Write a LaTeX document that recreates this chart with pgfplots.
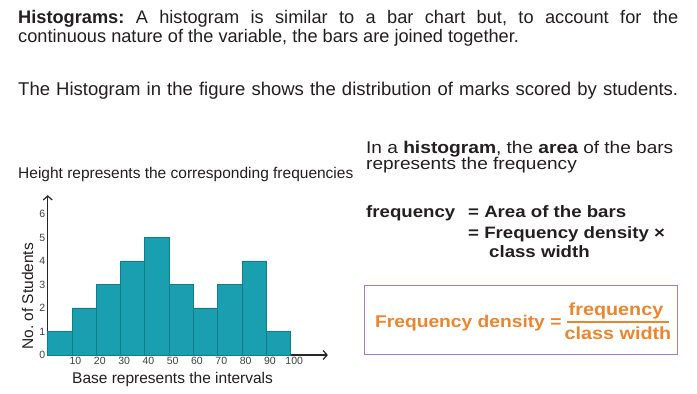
\documentclass[border=0pt]{standalone}
\usepackage{fontspec}
\setmainfont{Liberation Sans}
\newfontfamily\wide[FakeStretch=1.12]{Liberation Sans}
\newfontfamily\widebf[FakeStretch=1.13]{Liberation Sans Bold}
\usepackage{pgfplots}
\pgfplotsset{compat=1.18}
\usetikzlibrary{arrows.meta}
\definecolor{barfill}{HTML}{1A9FB0}
\definecolor{baredge}{HTML}{137C89}
\definecolor{txt}{HTML}{231F20}
\definecolor{orng}{HTML}{EA8530}
\definecolor{purp}{HTML}{A47CC4}
\begin{document}
\frenchspacing
\begin{tikzpicture}[x=1pt,y=1pt]
\path[use as bounding box,fill=white] (0,0) rectangle (697,394);
% header text
\node[anchor=base west,inner sep=0,text=txt,font=\fontsize{18.2}{20}\selectfont] at (18,370.5)
  {\makebox[660pt][s]{\textbf{Histograms:} A histogram is similar to a bar chart but, to account for the}};
\node[anchor=base west,inner sep=0,text=txt,font=\fontsize{18.2}{20}\selectfont] at (18,351)
  {continuous nature of the variable, the bars are joined together.};
\node[anchor=base west,inner sep=0,text=txt,font=\fontsize{18.5}{20}\selectfont] at (18,298.3)
  {\makebox[660pt][s]{The Histogram in the figure shows the distribution of marks scored by students.}};
% left annotation
\node[anchor=base west,inner sep=0,text=txt,font=\fontsize{15.5}{18}\selectfont] at (18,215.7)
  {Height represents the corresponding frequencies};
% right text
\node[anchor=base west,inner sep=0,text=txt,font=\wide\fontsize{17}{18}\selectfont] at (366,240.7)
  {In a {\widebf histogram}, the {\widebf area} of the bars};
\node[anchor=base west,inner sep=0,text=txt,font=\wide\fontsize{17}{18}\selectfont] at (366,224.5)
  {represents the frequency};
\node[anchor=base west,inner sep=0,text=txt,font=\widebf\fontsize{16.5}{18}\selectfont] at (366,176.7)
  {frequency};
\node[anchor=base west,inner sep=0,text=txt,font=\widebf\fontsize{16.5}{18}\selectfont] at (468,176.7)
  {= Area of the bars};
\node[anchor=base west,inner sep=0,text=txt,font=\widebf\fontsize{16.5}{18}\selectfont] at (468,155.7)
  {= Frequency density ×};
\node[anchor=base west,inner sep=0,text=txt,font=\widebf\fontsize{16.5}{18}\selectfont] at (489,136.7)
  {class width};
% formula box
\draw[purp,line width=1pt] (364.5,108) rectangle (677,39);
\node[anchor=base west,inner sep=0,text=orng,font=\widebf\fontsize{17}{20}\selectfont] at (375,66.7)
  {Frequency density =};
\node[anchor=base,inner sep=0,text=orng,font=\widebf\fontsize{17.5}{20}\selectfont] at (616,78)
  {frequency};
\node[anchor=base,inner sep=0,text=orng,font=\widebf\fontsize{17.5}{20}\selectfont] at (618,54.7)
  {class width};
\draw[orng,line width=1.3pt] (567,72) -- (669,72);
% histogram
\begin{axis}[
  at={(47.7pt,39pt)}, anchor=south west,
  x=2.43pt, y=23.5pt,
  xmin=0, xmax=115.3, ymin=0, ymax=6.8,
  enlargelimits=false,
  axis lines=left,
  axis line style={draw=black!85, line width=1.2pt, -{Straight Barb[length=4pt,width=9pt,line width=1.2pt]}},
  xtick={10,20,...,100}, ytick={0,1,...,6},
  major tick length=0pt,
  /pgf/number format/assume math mode=true,
  tick label style={font=\fontsize{10.5}{11}\selectfont, text=black!75},
  xticklabel style={xshift=3.5pt, yshift=1pt},
  yticklabel style={xshift=1pt},
  clip=false,
]
\addplot[ybar interval, fill=barfill, draw=baredge, line width=0.9pt]
  coordinates {(0,1) (10,2) (20,3) (30,4) (40,5) (50,3) (60,2) (70,3) (80,4) (90,1) (100,1)};
\end{axis}
\node[anchor=base west,inner sep=0,text=txt,font=\fontsize{15.5}{18}\selectfont] at (72,10.7)
  {Base represents the intervals};
\node[anchor=base west,inner sep=0,rotate=90,text=txt,font=\fontsize{15.5}{18}\selectfont] at (33,44)
  {No. of Students};
\end{tikzpicture}
\end{document}
